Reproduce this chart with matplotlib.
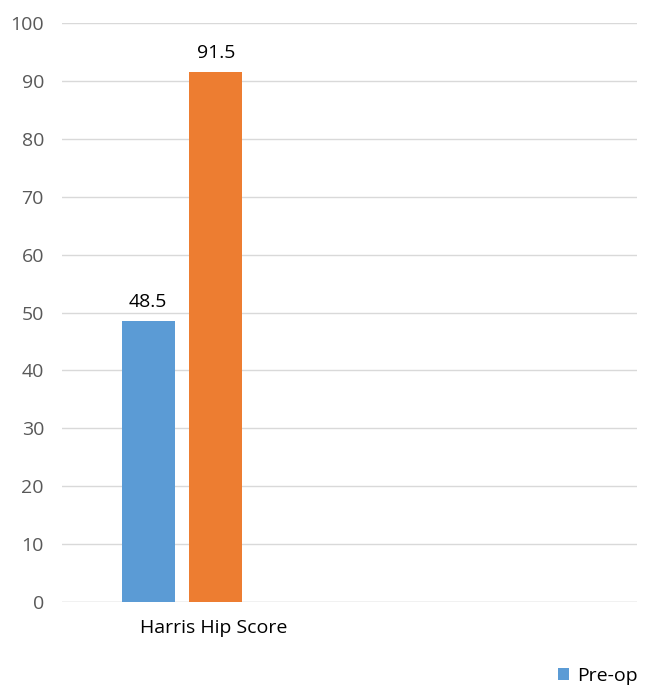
import matplotlib.pyplot as plt
import matplotlib.transforms as mtransforms
import numpy as np

plt.rcParams['font.family'] = ['Open Sans', 'DejaVu Sans']

categories = ["Harris Hip Score"]
series = ["Pre-op", "Post-op"]
pre_op = [48.5]
post_op = [91.5]
colors = ["#5B9BD5", "#ED7D31"]
yticks = list(range(0, 101, 10))

fig = plt.figure(figsize=(6.51, 6.87), dpi=100)
ax = fig.add_axes([62 / 651, 1 - 602 / 687, 575 / 651, 579 / 687])

x = np.arange(len(categories))
width = 0.221
off = 0.141
b1 = ax.bar(x - off, pre_op, width, color=colors[0], label=series[0], zorder=3)
b2 = ax.bar(x + off, post_op, width, color=colors[1], label=series[1], zorder=3)

for bars in (b1, b2):
    for rect in bars:
        h = rect.get_height()
        ax.text(rect.get_x() + rect.get_width() / 2, h + 2.4, f"{h:.1f}",
                ha="center", va="baseline", fontsize=14, color="#000000")

ax.set_xlim(-0.5, 1.896)
ax.set_ylim(0, 100)
ax.set_yticks(yticks)
ax.set_xticks(x)
ax.set_xticklabels(categories, fontsize=14, color="#000000")
ax.tick_params(axis="y", labelsize=14, colors="#595959", length=0, pad=13)
ax.tick_params(axis="x", length=0, pad=12)
# category label sits a bit right of the bar pair in the original
shift = mtransforms.ScaledTranslation(0.32, 0, fig.dpi_scale_trans)
for lbl in ax.get_xticklabels():
    lbl.set_transform(lbl.get_transform() + shift)
ax.grid(axis="y", color="#D9D9D9", linewidth=1, zorder=0)
for s in ["top", "right", "left", "bottom"]:
    ax.spines[s].set_visible(False)
ax.axhline(0, color="#D9D9D9", linewidth=1, zorder=1)

fig.legend(handles=[b1], loc="center right", bbox_to_anchor=(638 / 651, 1 - 676 / 687),
           frameon=False, fontsize=14, handlelength=0.55, handleheight=0.55,
           handletextpad=0.45, borderpad=0, borderaxespad=0)

fig.savefig("out.png", dpi=100)
